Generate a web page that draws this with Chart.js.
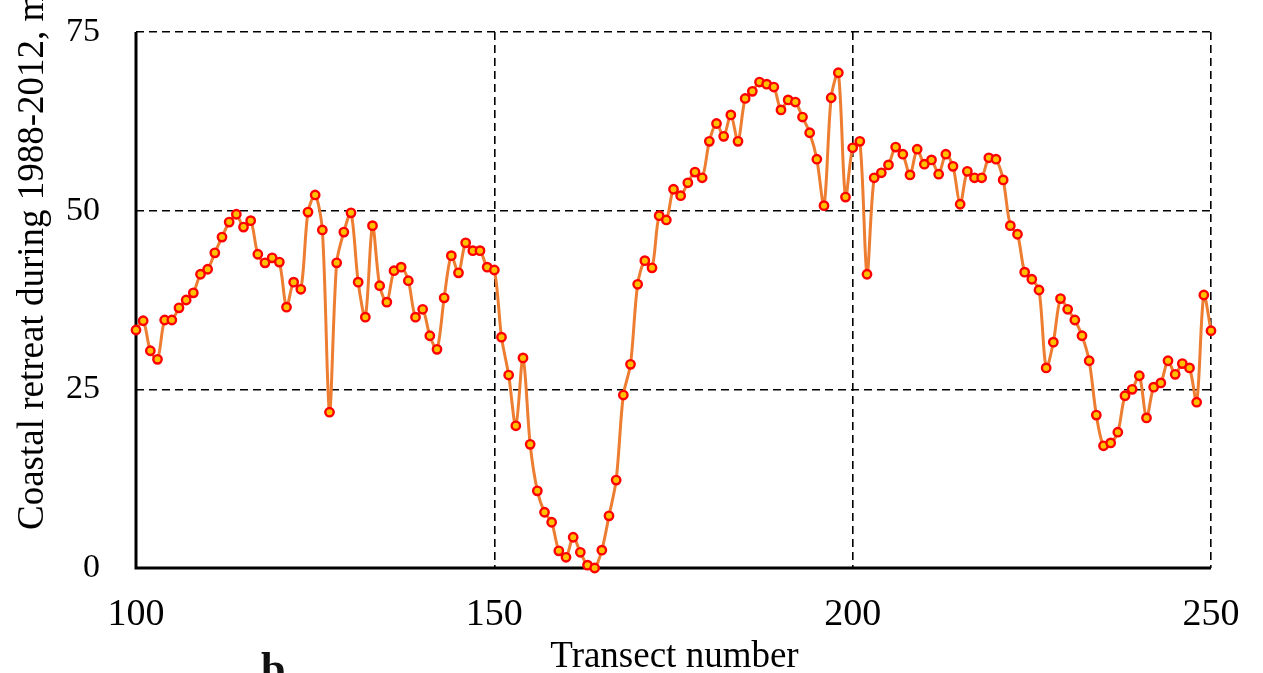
<!DOCTYPE html>
<html>
<head>
<meta charset="utf-8">
<script src="https://cdn.jsdelivr.net/npm/chart.js@4.4.1/dist/chart.umd.min.js"></script>
<style>
  html, body { margin: 0; padding: 0; background: #fff; overflow: hidden; }
  #wrap { position: relative; width: 1263px; height: 673px; overflow: hidden; }
  #panel { position: absolute; left: 261px; top: 647px; font-family: "Liberation Serif", serif; font-weight: bold; font-size: 44px; line-height: 1; color: #111; }
</style>
</head>
<body>
<div id="wrap">
  <canvas id="c" width="1263" height="673"></canvas>
  <div id="panel">b</div>
</div>
<script>
// ---- data ----
const firstTransect = 100;
const retreat = [
  33.3, 34.6, 30.4, 29.2, 34.7, 34.7, 36.4, 37.5, 38.5, 41.1,
  41.8, 44.1, 46.3, 48.4, 49.5, 47.7, 48.6, 43.9, 42.7, 43.4,
  42.8, 36.5, 40.0, 39.0, 49.8, 52.2, 47.3, 21.8, 42.7, 47.0,
  49.7, 40.0, 35.1, 47.9, 39.5, 37.2, 41.6, 42.1, 40.2, 35.1,
  36.2, 32.5, 30.6, 37.8, 43.7, 41.3, 45.5, 44.4, 44.4, 42.1,
  41.7, 32.3, 27.0, 19.9, 29.4, 17.3, 10.8, 7.8, 6.4, 2.4,
  1.5, 4.3, 2.2, 0.4, 0.0, 2.5, 7.3, 12.3, 24.2, 28.5,
  39.7, 43.0, 42.0, 49.3, 48.7, 53.0, 52.1, 53.9, 55.4, 54.6,
  59.7, 62.2, 60.4, 63.4, 59.7, 65.7, 66.7, 68.0, 67.7, 67.3,
  64.1, 65.5, 65.2, 63.1, 60.9, 57.2, 50.7, 65.8, 69.3, 51.9,
  58.8, 59.7, 41.1, 54.6, 55.3, 56.4, 58.9, 57.9, 55.0, 58.6,
  56.5, 57.1, 55.1, 57.9, 56.2, 50.9, 55.5, 54.6, 54.6, 57.4,
  57.2, 54.3, 47.9, 46.7, 41.4, 40.4, 38.9, 28.0, 31.6, 37.7,
  36.2, 34.7, 32.5, 29.0, 21.4, 17.1, 17.5, 19.0, 24.1, 25.0,
  26.9, 21.0, 25.3, 25.9, 29.0, 27.1, 28.6, 28.0, 23.2, 38.2,
  33.2
];
const transects = retreat.map((_, i) => firstTransect + i);
const xTicks = [100, 150, 200, 250];
const yTicks = [0, 25, 50, 75];
const xTitle = 'Transect number';
const yTitle = 'Coastal retreat during 1988-2012, m';

const points = transects.map((t, i) => ({ x: t, y: retreat[i] }));
const serif = '"Liberation Serif", "Times New Roman", serif';

const titlePlugin = {
  id: 'axisTitles',
  afterDraw(chart) {
    const ctx = chart.ctx;
    const area = chart.chartArea;
    ctx.save();
    ctx.fillStyle = '#000';
    ctx.font = '37px ' + serif;
    ctx.textAlign = 'center';
    ctx.textBaseline = 'alphabetic';
    ctx.fillText(xTitle, (area.left + area.right) / 2 + 1, 667);
    ctx.translate(43, 530);
    ctx.rotate(-Math.PI / 2);
    ctx.textAlign = 'left';
    ctx.fillText(yTitle, 0, 0);
    ctx.restore();
  }
};

// solid axis lines on left and bottom (drawn over the dashed grid)
const axisLinePlugin = {
  id: 'axisLines',
  beforeDatasetsDraw(chart) {
    const ctx = chart.ctx;
    const a = chart.chartArea;
    ctx.save();
    ctx.strokeStyle = '#000';
    ctx.lineWidth = 3;
    ctx.setLineDash([]);
    ctx.beginPath();
    ctx.moveTo(a.left, a.top);
    ctx.lineTo(a.left, a.bottom);
    ctx.lineTo(a.right, a.bottom);
    ctx.stroke();
    ctx.restore();
  }
};

new Chart(document.getElementById('c'), {
  type: 'line',
  data: {
    datasets: [{
      data: points,
      borderColor: '#ED7D31',
      borderWidth: 3,
      tension: 0.3,
      pointRadius: 4.2,
      pointBorderWidth: 2.4,
      pointBackgroundColor: '#FFC000',
      pointBorderColor: '#FF0000',
      clip: false
    }]
  },
  options: {
    responsive: false,
    animation: false,
    devicePixelRatio: 1,
    layout: { padding: { left: 0, right: 52, top: 32, bottom: 0 } },
    plugins: { legend: { display: false }, tooltip: { enabled: false } },
    scales: {
      x: {
        type: 'linear',
        min: 100, max: 250,
        afterFit(s) { s.height = 105; s.paddingLeft = 0; s.paddingRight = 0; },
        afterBuildTicks(s) { s.ticks = xTicks.map(v => ({ value: v })); },
        ticks: { color: '#000', font: { family: serif, size: 38 }, padding: 24, maxRotation: 0, autoSkip: false },
        grid: { color: '#000', lineWidth: 1.6, drawTicks: false },
        border: { display: false, dash: [8, 5] }
      },
      y: {
        min: 0, max: 75,
        afterFit(s) { s.width = 136; s.paddingTop = 0; s.paddingBottom = 0; },
        afterBuildTicks(s) { s.ticks = yTicks.map(v => ({ value: v })); },
        ticks: { color: '#000', font: { family: serif, size: 34 }, padding: 36 },
        grid: { color: '#000', lineWidth: 1.6, drawTicks: false },
        border: { display: false, dash: [8, 5] }
      }
    }
  },
  plugins: [titlePlugin, axisLinePlugin]
});
</script>
</body>
</html>
